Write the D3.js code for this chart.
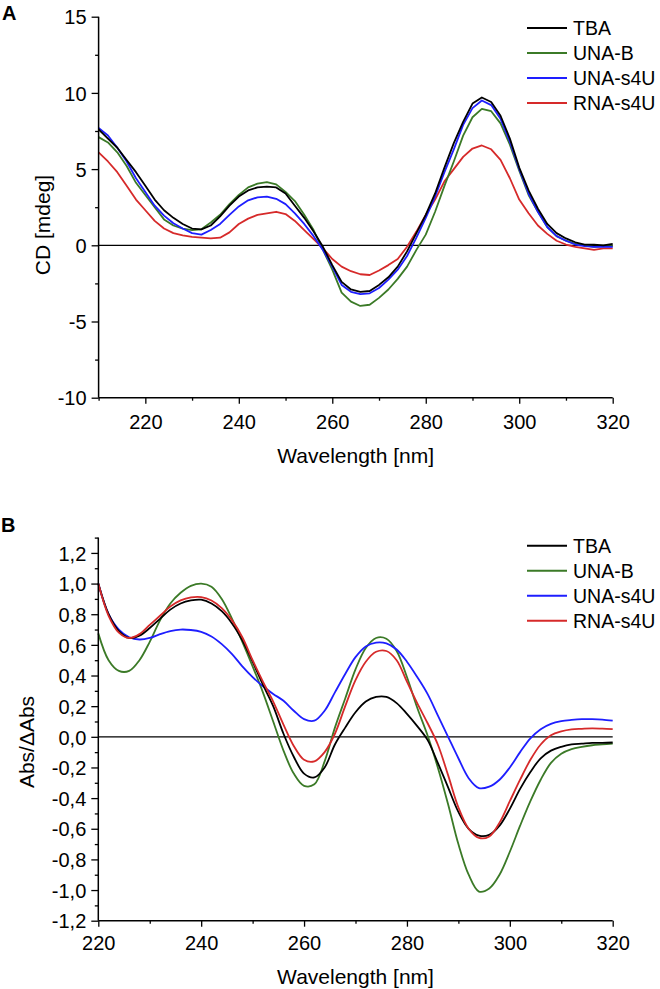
<!DOCTYPE html>
<html>
<head>
<meta charset="utf-8">
<script src="https://cdn.jsdelivr.net/npm/d3@7"></script>
<style>
  html, body { margin: 0; padding: 0; background: #fff; }
  svg { display: block; font-family: "Liberation Sans", Arial, sans-serif; }
  .domain { stroke: #000; stroke-width: 1.5px; }
  .tick line { stroke: #000; stroke-width: 1.3px; }
</style>
</head>
<body>
<svg id="chart" width="660" height="989"></svg>
<script>
// ---------- Data ----------
const seriesNames = ["TBA", "UNA-B", "UNA-s4U", "RNA-s4U"];
const seriesColors = ["#000000", "#3b7a27", "#1e1eff", "#d62a2a"];

// Panel A: CD spectra (mdeg), wavelengths 210..320 step 2
const wavelengthsA = [210,212,214,216,218,220,222,224,226,228,230,232,234,236,238,240,242,244,246,248,250,252,254,256,258,260,262,264,266,268,270,272,274,276,278,280,282,284,286,288,290,292,294,296,298,300,302,304,306,308,310,312,314,316,318,320];
const cdTBA = [7.6,7.0,6.4,5.6,4.8,3.9,3.0,2.3,1.8,1.4,1.1,1.05,1.3,1.9,2.6,3.2,3.6,3.8,3.85,3.8,3.4,2.6,1.8,0.9,-0.1,-1.3,-2.4,-2.9,-3.05,-3.0,-2.6,-2.1,-1.4,-0.4,0.8,2.0,3.4,5.1,6.7,8.1,9.3,9.7,9.4,8.5,7.0,5.1,3.6,2.4,1.4,0.8,0.45,0.2,0.05,0.05,0.0,0.1];
const cdUNAB = [7.1,6.75,6.1,5.2,4.1,3.3,2.5,1.7,1.3,1.1,1.0,1.05,1.5,2.0,2.7,3.3,3.8,4.05,4.15,4.0,3.5,2.9,2.0,1.0,-0.3,-1.6,-3.1,-3.7,-3.98,-3.9,-3.45,-2.9,-2.2,-1.4,-0.3,0.7,2.2,3.9,5.5,7.2,8.4,8.95,8.8,8.0,6.6,4.9,3.3,2.2,1.2,0.6,0.3,0.1,0.0,-0.1,-0.05,-0.05];
const cdUNAs4U = [7.7,7.2,6.4,5.5,4.4,3.5,2.6,1.95,1.45,1.1,0.8,0.7,1.0,1.4,2.0,2.55,2.95,3.15,3.2,3.05,2.7,2.1,1.4,0.6,-0.3,-1.4,-2.6,-3.05,-3.2,-3.15,-2.8,-2.25,-1.6,-0.7,0.5,1.8,3.2,4.8,6.3,7.9,9.0,9.5,9.2,8.3,6.8,5.0,3.4,2.2,1.2,0.6,0.3,0.05,-0.05,-0.1,-0.1,-0.1];
const cdRNAs4U = [6.1,5.5,4.8,3.9,3.0,2.3,1.6,1.1,0.8,0.65,0.55,0.5,0.45,0.5,0.85,1.4,1.75,2.0,2.1,2.2,2.05,1.6,1.0,0.4,-0.2,-0.9,-1.4,-1.7,-1.9,-1.95,-1.65,-1.3,-0.9,-0.1,0.9,2.0,3.0,4.2,5.0,5.8,6.35,6.55,6.3,5.6,4.4,3.0,2.1,1.3,0.75,0.3,0.05,-0.1,-0.2,-0.3,-0.2,-0.2];

// Panel B: Abs/ΔAbs, wavelengths 220..320 step 2
const wavelengthsB = [220,222,224,226,228,230,232,234,236,238,240,242,244,246,248,250,252,254,256,258,260,262,264,266,268,270,272,274,276,278,280,282,284,286,288,290,292,294,296,298,300,302,304,306,308,310,312,314,316,318,320];
const absTBA = [1.0,0.8,0.69,0.645,0.66,0.71,0.77,0.83,0.87,0.89,0.895,0.87,0.82,0.74,0.63,0.49,0.34,0.2,0.02,-0.13,-0.24,-0.265,-0.2,-0.05,0.06,0.16,0.23,0.26,0.26,0.22,0.15,0.07,-0.02,-0.17,-0.33,-0.49,-0.6,-0.645,-0.64,-0.58,-0.47,-0.34,-0.23,-0.14,-0.09,-0.065,-0.05,-0.045,-0.04,-0.04,-0.037];
const absUNAB = [0.675,0.5,0.43,0.43,0.5,0.62,0.76,0.87,0.94,0.985,1.0,0.98,0.9,0.77,0.62,0.46,0.29,0.1,-0.09,-0.24,-0.32,-0.31,-0.16,0.06,0.25,0.44,0.58,0.645,0.64,0.56,0.39,0.19,0.01,-0.2,-0.44,-0.7,-0.9,-1.01,-0.99,-0.9,-0.75,-0.58,-0.42,-0.28,-0.17,-0.11,-0.08,-0.065,-0.055,-0.05,-0.045];
const absUNAs4U = [1.0,0.8,0.7,0.65,0.635,0.645,0.67,0.69,0.70,0.697,0.685,0.655,0.605,0.54,0.46,0.39,0.33,0.28,0.235,0.17,0.115,0.105,0.17,0.29,0.41,0.52,0.59,0.615,0.61,0.57,0.49,0.39,0.28,0.14,0.0,-0.14,-0.27,-0.335,-0.325,-0.28,-0.2,-0.1,-0.01,0.05,0.085,0.102,0.11,0.115,0.115,0.112,0.105];
const absRNAs4U = [1.0,0.79,0.68,0.645,0.67,0.73,0.79,0.85,0.89,0.91,0.912,0.89,0.84,0.76,0.65,0.5,0.36,0.23,0.08,-0.06,-0.15,-0.16,-0.1,0.02,0.2,0.37,0.49,0.555,0.56,0.5,0.36,0.22,0.09,-0.05,-0.25,-0.46,-0.6,-0.66,-0.65,-0.56,-0.42,-0.28,-0.15,-0.05,0.01,0.035,0.048,0.052,0.055,0.053,0.05];

// Ticks
const xTicksA = [220, 240, 260, 280, 300, 320];
const xMinorA = [210, 230, 250, 270, 290, 310];
const yTicksA = [-10, -5, 0, 5, 10, 15];
const yMinorA = [-7.5, -2.5, 2.5, 7.5, 12.5];
const xTicksB = [220, 240, 260, 280, 300, 320];
const xMinorB = [230, 250, 270, 290, 310];
const yTicksB = [-1.2, -1.0, -0.8, -0.6, -0.4, -0.2, 0.0, 0.2, 0.4, 0.6, 0.8, 1.0, 1.2];
const yMinorB = [-1.1, -0.9, -0.7, -0.5, -0.3, -0.1, 0.1, 0.3, 0.5, 0.7, 0.9, 1.1, 1.3];

const svg = d3.select("#chart");
const FONT = 20;

function drawPanel(cfg) {
  const g = svg.append("g");
  const x = d3.scaleLinear().domain(cfg.xDomain).range(cfg.xRange);
  const y = d3.scaleLinear().domain(cfg.yDomain).range(cfg.yRange);

  // zero line
  g.append("line")
    .attr("x1", x(cfg.xDomain[0])).attr("x2", x(cfg.xDomain[1]))
    .attr("y1", y(0)).attr("y2", y(0))
    .attr("stroke", "#000").attr("stroke-width", 1.3);

  // series
  const line = d3.line()
    .x((d, i) => x(cfg.wl[i]))
    .y(d => y(d))
    .curve(cfg.curve);
  cfg.order.forEach(k => {
    g.append("path")
      .datum(cfg.series[k])
      .attr("fill", "none")
      .attr("stroke", seriesColors[k])
      .attr("stroke-width", 1.8)
      .attr("stroke-linejoin", "round")
      .attr("d", line);
  });

  // minor ticks
  g.append("g")
    .attr("transform", `translate(0,${cfg.yRange[0]})`)
    .call(d3.axisBottom(x).tickValues(cfg.xMinor).tickSize(3).tickFormat(""))
    .call(s => s.select(".domain").remove());
  g.append("g")
    .attr("transform", `translate(${cfg.xRange[0]},0)`)
    .call(d3.axisLeft(y).tickValues(cfg.yMinor).tickSize(3.5).tickFormat(""))
    .call(s => s.select(".domain").remove());

  // major axes
  const xa = g.append("g")
    .attr("transform", `translate(0,${cfg.yRange[0]})`)
    .call(d3.axisBottom(x).tickValues(cfg.xTicks).tickSize(6).tickSizeOuter(0).tickFormat(d => String(d)));
  xa.selectAll("text")
    .attr("font-size", FONT).attr("font-family", "Liberation Sans, Arial, sans-serif")
    .attr("fill", "#000").attr("dy", null).attr("y", cfg.xLabelBaseline).attr("dominant-baseline", "auto");
  xa.select(".domain").attr("d", `M${cfg.xRange[0]},0H${cfg.xRange[1]}`);

  const ya = g.append("g")
    .attr("transform", `translate(${cfg.xRange[0]},0)`)
    .call(d3.axisLeft(y).tickValues(cfg.yTicks).tickSize(7).tickSizeOuter(0).tickFormat(cfg.yFormat));
  ya.selectAll("text")
    .attr("font-size", FONT).attr("font-family", "Liberation Sans, Arial, sans-serif")
    .attr("fill", "#000").attr("x", -12).attr("dy", "0.36em");
  ya.select(".domain").attr("d", `M0,${cfg.yRange[0]}V${cfg.yRange[1]}`);

  // axis titles
  g.append("text")
    .attr("x", (cfg.xRange[0] + cfg.xRange[1]) / 2)
    .attr("y", cfg.xTitleY)
    .attr("text-anchor", "middle")
    .attr("font-size", 21)
    .text("Wavelength [nm]");
  g.append("text")
    .attr("transform", `translate(${cfg.yTitleX},${cfg.yTitleY}) rotate(-90)`)
    .attr("text-anchor", "middle")
    .attr("dy", "0.36em")
    .attr("font-size", 21)
    .text(cfg.yTitle);

  // panel letter
  g.append("text")
    .attr("x", cfg.letterX).attr("y", cfg.letterY)
    .attr("font-size", 20).attr("font-weight", "bold")
    .text(cfg.letter);

  // legend
  const lg = g.append("g");
  seriesNames.forEach((name, i) => {
    const yy = cfg.legendY + i * 25;
    lg.append("line")
      .attr("x1", 527).attr("x2", 567)
      .attr("y1", yy).attr("y2", yy)
      .attr("stroke", seriesColors[i]).attr("stroke-width", 2);
    lg.append("text")
      .attr("x", 573).attr("y", yy).attr("dy", "0.36em")
      .attr("font-size", 19.5)
      .text(name);
  });
}

drawPanel({
  letter: "A", letterX: 2, letterY: 20,
  wl: wavelengthsA,
  series: [cdTBA, cdUNAB, cdUNAs4U, cdRNAs4U],
  order: [3, 1, 2, 0],
  curve: d3.curveLinear,
  xDomain: [210, 320], xRange: [98.6, 612.7],
  yDomain: [-10, 15], yRange: [397.7, 16.7],
  xTicks: xTicksA, xMinor: xMinorA, yTicks: yTicksA, yMinor: yMinorA,
  yFormat: d => String(d),
  xLabelBaseline: 31,
  xTitleY: 463,
  yTitle: "CD [mdeg]", yTitleX: 42, yTitleY: 225,
  legendY: 28
});

drawPanel({
  letter: "B", letterX: 1, letterY: 532,
  wl: wavelengthsB,
  series: [absTBA, absUNAB, absUNAs4U, absRNAs4U],
  order: [1, 2, 0, 3],
  curve: d3.curveCatmullRom.alpha(0.5),
  xDomain: [220, 320], xRange: [98.3, 612.7],
  yDomain: [-1.2, 1.3], yRange: [920.7, 537.6],
  xTicks: xTicksB, xMinor: xMinorB, yTicks: yTicksB, yMinor: yMinorB,
  yFormat: d => d.toFixed(1).replace(".", ","),
  xLabelBaseline: 29,
  xTitleY: 984,
  yTitle: "Abs/ΔAbs", yTitleX: 26, yTitleY: 742,
  legendY: 545.7
});
</script>
</body>
</html>
